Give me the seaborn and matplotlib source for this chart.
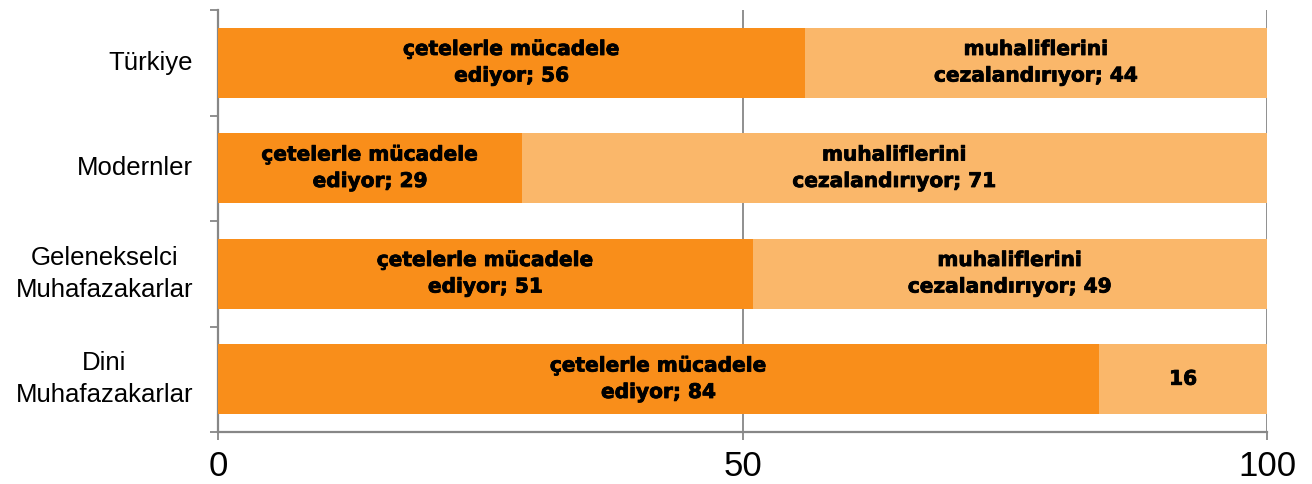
import matplotlib
matplotlib.use("Agg")
import matplotlib.pyplot as plt
import matplotlib.patheffects as pe
import seaborn as sns
import pandas as pd
import numpy as np

categories = ["Türkiye", "Modernler", "Gelenekselci\nMuhafazakarlar", "Dini\nMuhafazakarlar"]
fight_gangs = [56, 29, 51, 84]
punish_opponents = [44, 71, 49, 16]
fight_labels = ["çetelerle mücadele\nediyor; 56", "çetelerle mücadele\nediyor; 29",
                "çetelerle mücadele\nediyor; 51", "çetelerle mücadele\nediyor; 84"]
punish_labels = ["muhaliflerini\ncezalandırıyor; 44", "muhaliflerini\ncezalandırıyor; 71",
                 "muhaliflerini\ncezalandırıyor; 49", "16"]
x_ticks = [0, 50, 100]

DARK = "#F98E1A"
LIGHT = "#FAB76A"
GRAY = "#878787"

sns.set_theme(style="white")
plt.rcParams['font.family'] = ['Liberation Sans', 'DejaVu Sans']

df = pd.DataFrame({
    "cat": categories,
    "fight": fight_gangs,
    "punish": punish_opponents,
})
df["total"] = df["fight"] + df["punish"]

fig = plt.figure(figsize=(13.12, 4.84), dpi=100)
ax = fig.add_axes([218/1312, 1 - 432/484, (1267-218)/1312, (432-10)/484])

sns.barplot(data=df, y="cat", x="total", color=LIGHT, orient="h", width=0.66,
            saturation=1, ax=ax, zorder=3, linewidth=0)
sns.barplot(data=df, y="cat", x="fight", color=DARK, orient="h", width=0.66,
            saturation=1, ax=ax, zorder=4, linewidth=0)

ax.set_xlim(0, 100)
ax.set_ylim(3.5, -0.5)
ax.set_xlabel("")
ax.set_ylabel("")

# grid
ax.set_xticks(x_ticks)
ax.set_xticklabels([str(t) for t in x_ticks], fontsize=25, color="black")
ax.xaxis.grid(True, color=GRAY, linewidth=1.3, zorder=1)
ax.set_axisbelow(True)
ax.yaxis.grid(False)

# spines
for s in ["top", "right"]:
    ax.spines[s].set_visible(False)
for s in ["left", "bottom"]:
    ax.spines[s].set_color(GRAY)
    ax.spines[s].set_linewidth(1.6)

ax.tick_params(axis="x", which="major", direction="out", length=6, width=1.3,
               color=GRAY, bottom=True, pad=7)
ax.set_yticks(range(len(categories)))
ax.set_yticklabels(categories, fontsize=18.5, color="black")
for lab in ax.get_yticklabels():
    lab.set_multialignment("center")
    lab.set_linespacing(1.4)
    lab.set_verticalalignment("center")
ax.tick_params(axis="y", which="major", length=0, pad=18)
ax.set_yticks(np.arange(-0.5, len(categories), 1.0), minor=True)
ax.tick_params(axis="y", which="minor", direction="out", length=6, width=1.3,
               color=GRAY, left=True)

# labels
heavy = [pe.withStroke(linewidth=0.6, foreground="black")]
for i, (f, p) in enumerate(zip(fight_gangs, punish_opponents)):
    ax.text(f / 2, i, fight_labels[i], ha="center", va="center",
            fontsize=14.5, fontweight="bold", family="DejaVu Sans",
            color="black", zorder=5, linespacing=1.5, path_effects=heavy)
    ax.text(f + p / 2, i, punish_labels[i], ha="center", va="center",
            fontsize=14.5, fontweight="bold", family="DejaVu Sans",
            color="black", zorder=5, linespacing=1.5, path_effects=heavy)

fig.savefig("out.png", dpi=100)
